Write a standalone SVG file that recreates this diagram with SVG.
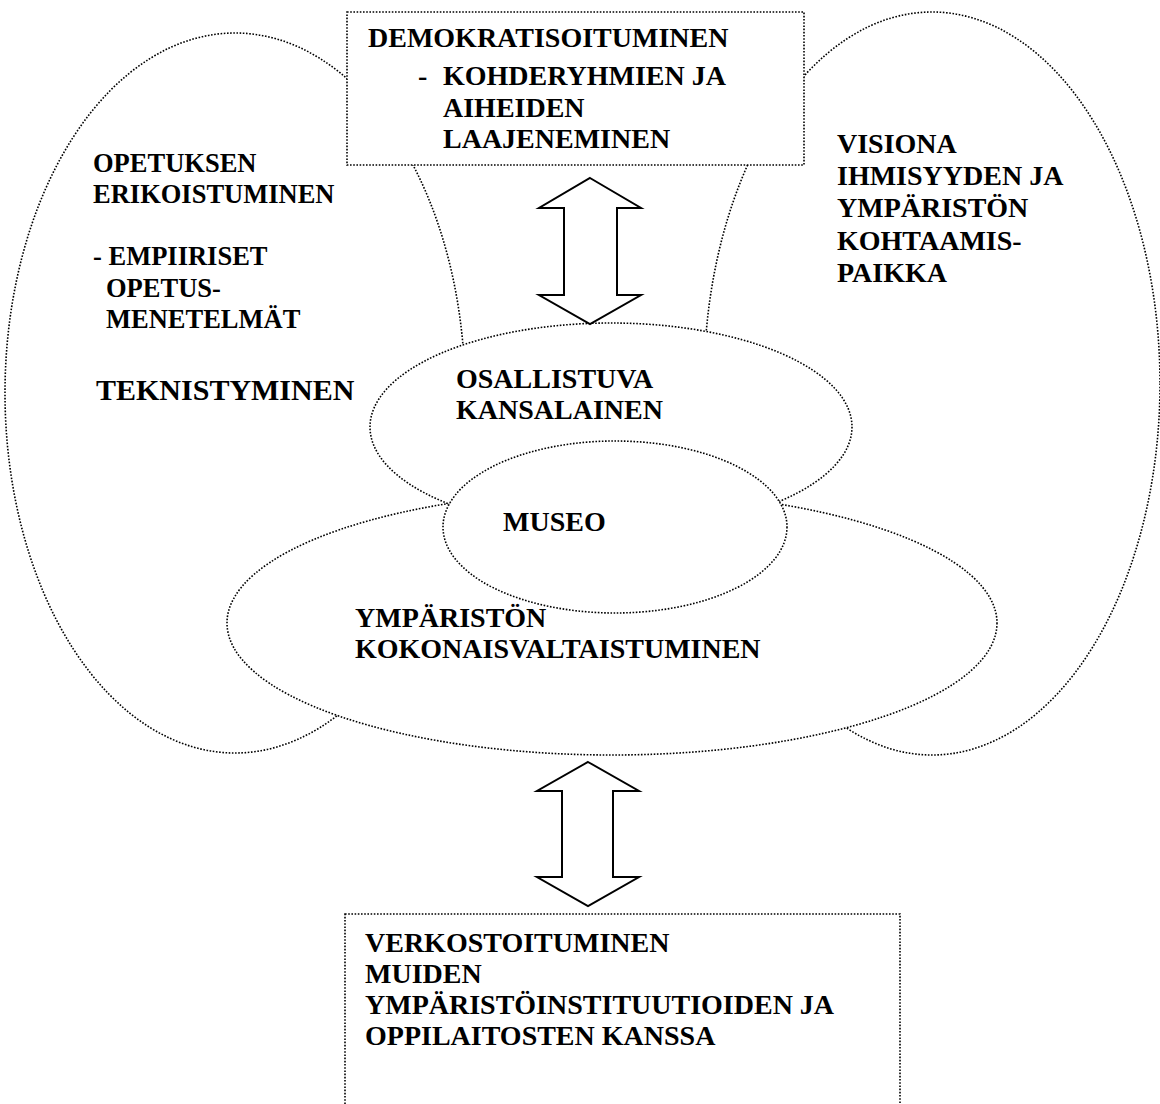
<svg xmlns="http://www.w3.org/2000/svg" width="1160" height="1104" viewBox="0 0 1160 1104">
<style>
.d{fill:#fff;stroke:#000;stroke-width:1.6;stroke-dasharray:1.6 1.6}
.t{font-family:"Liberation Serif","Times New Roman",serif;font-weight:bold;font-size:28px;fill:#000}
.s{font-size:26.5px}
.l{font-size:30px}
.a{fill:#fff;stroke:#000;stroke-width:2;stroke-linejoin:miter}
</style>
<rect width="1160" height="1104" fill="#fff"/>
<g id="opetus">
<ellipse class="d" cx="235" cy="393" rx="230" ry="360"/>
<text class="t s" x="93" y="172">OPETUKSEN</text>
<text class="t s" x="93" y="203">ERIKOISTUMINEN</text>
<text class="t s" x="93" y="265">- EMPIIRISET</text>
<text class="t s" x="106" y="297">OPETUS-</text>
<text class="t s" x="106" y="328">MENETELMÄT</text>
<text class="t l" x="96" y="400">TEKNISTYMINEN</text>
</g>
<g id="visiona">
<ellipse class="d" cx="932" cy="383.5" rx="228" ry="371.5"/>
<text class="t" x="837" y="153">VISIONA</text>
<text class="t" x="837" y="185">IHMISYYDEN JA</text>
<text class="t" x="837" y="217">YMPÄRISTÖN</text>
<text class="t" x="837" y="250">KOHTAAMIS-</text>
<text class="t" x="837" y="282">PAIKKA</text>
</g>
<g id="demokratisoituminen">
<rect class="d" x="347" y="12" width="457" height="153"/>
<text class="t" x="368" y="47">DEMOKRATISOITUMINEN</text>
<text class="t" x="418" y="85">-</text>
<text class="t" x="443" y="85">KOHDERYHMIEN JA</text>
<text class="t" x="443" y="117">AIHEIDEN</text>
<text class="t" x="443" y="148">LAAJENEMINEN</text>
</g>
<g id="ymparisto">
<ellipse class="d" cx="612" cy="623" rx="385" ry="132"/>
<text class="t" x="355" y="627">YMPÄRISTÖN</text>
<text class="t" x="355" y="658">KOKONAISVALTAISTUMINEN</text>
</g>
<g id="kansalainen">
<ellipse class="d" cx="611" cy="427" rx="241" ry="104"/>
<text class="t" x="456" y="388">OSALLISTUVA</text>
<text class="t" x="456" y="419">KANSALAINEN</text>
</g>
<g id="museo">
<ellipse class="d" cx="615" cy="527" rx="172" ry="86"/>
<text class="t" x="503" y="531">MUSEO</text>
</g>
<g id="verkostoituminen">
<rect class="d" x="345" y="914" width="555" height="220"/>
<text class="t" x="365" y="952">VERKOSTOITUMINEN</text>
<text class="t" x="365" y="983">MUIDEN</text>
<text class="t" x="365" y="1014">YMPÄRISTÖINSTITUUTIOIDEN JA</text>
<text class="t" x="365" y="1045">OPPILAITOSTEN KANSSA</text>
</g>
<g id="connectors">
<polygon class="a" points="590,178 641,208 617,208 617,295 641,295 590,324 539,295 564,295 564,208 539,208"/>
<polygon class="a" points="588,762 639,791 613,791 613,877 639,877 588,906 537,877 562,877 562,791 537,791"/>
</g>
</svg>
